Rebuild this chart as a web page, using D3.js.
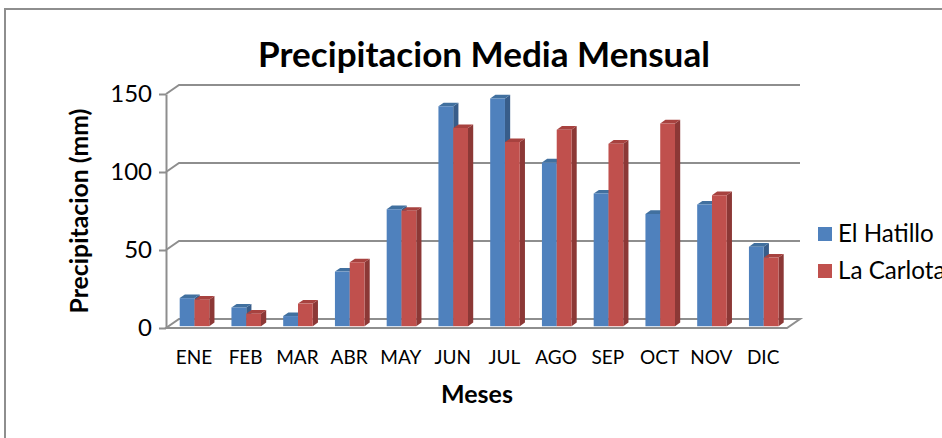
<!DOCTYPE html>
<meta charset="utf-8">
<style>
  body{ margin:0; background:#fff; }
  text{ font-family: Lato, "Open Sans", sans-serif; fill:#000; }
</style>

<svg width="942" height="438"></svg>

<script src="https://d3js.org/d3.v7.min.js"></script>
<script>
  // data
  const months = ['ENE','FEB','MAR','ABR','MAY','JUN','JUL','AGO','SEP','OCT','NOV','DIC']
  const series = ['El Hatillo','La Carlota']
  const hatillo = [18, 12, 6.5, 35, 75, 141, 146, 105, 85, 72, 78, 51]
  const carlota = [17, 8, 14.5, 41, 74, 127, 118, 126, 117, 130, 84, 44]
  const yTicks = [0, 50, 100, 150]

  const colors = {
    'El Hatillo': {front:'#4f81bd', side:'#385d8a', top:'#41709f'},
    'La Carlota': {front:'#c0504d', side:'#8c3836', top:'#a7423f'}
  }

  // front plane of the plot, plus the depth offset that fakes the 3d box
  const plot = {left:166, right:787, bottom:328, top:94}
  const depth = {dx:13, dy:-9}
  const barDepth = [0.2, 0.6]
  const gridColor = '#8e8e8e'

  const svg = d3.select('svg')

  // outer chart border (runs off the right and bottom edges)
  svg.append('path')
    .attr('d', 'M5,438 V9 H942')
    .attr('fill', 'none')
    .attr('stroke', gridColor)
    .attr('stroke-width', 2)

  const x = d3.scaleBand().domain(months)
    .range([plot.left, plot.right])
    .paddingInner(0.4286).paddingOuter(0.2143)
  const xs = d3.scaleBand().domain(series).range([0, x.bandwidth()])
  const y = d3.scaleLinear().domain([0, 150]).range([plot.bottom, plot.top])

  // project a front-plane point back by t (0 = front, 1 = back wall)
  const pt = (px, py, t) => [px + t*depth.dx, py + t*depth.dy]
  const poly = pts => 'M' + pts.map(p => p.join(',')).join('L') + 'Z'

  // back wall gridlines + side wall diagonals
  svg.append('g').selectAll('path')
    .data(yTicks.filter(d => d > 0))
    .join('path')
    .attr('d', d => {
      let a = pt(plot.left, y(d), 0), b = pt(plot.left, y(d), 1), c = pt(plot.right, y(d), 1)
      return 'M' + a + 'L' + b + 'L' + c
    })
    .attr('fill', 'none')
    .attr('stroke', gridColor)
    .attr('stroke-width', 2)

  // floor
  svg.append('path')
    .attr('d', poly([
      pt(plot.left, y(0), 0), pt(plot.right, y(0), 0),
      pt(plot.right, y(0), 1), pt(plot.left, y(0), 1)
    ]))
    .attr('fill', 'none')
    .attr('stroke', gridColor)
    .attr('stroke-width', 2)

  // y axis
  const yAxis = svg.append('g')
    .attr('transform', 'translate(' + plot.left + ',0)')
    .call(d3.axisLeft(y).tickValues(yTicks).tickSize(7).tickSizeOuter(0).tickPadding(7))
  yAxis.selectAll('path,line').attr('stroke', gridColor).attr('stroke-width', 2)
  yAxis.selectAll('text').attr('font-size', 24).attr('font-family', 'Lato').attr('fill', '#000')

  // x axis labels
  const xAxis = svg.append('g')
    .attr('transform', 'translate(2,350)')
    .call(d3.axisBottom(x).tickSize(0).tickPadding(0))
  xAxis.select('.domain').remove()
  xAxis.selectAll('text').attr('font-size', 19).attr('font-family', 'Lato').attr('fill', '#000')

  // bars: front, side and top faces
  const rows = months.map((m, i) => ({month: m, values: [hatillo[i], carlota[i]]}))
  const bars = []
  rows.forEach(r => series.forEach((s, j) => bars.push({month: r.month, series: s, value: r.values[j]})))

  const barG = svg.append('g').selectAll('g')
    .data(bars)
    .join('g')

  const faces = d => {
    let x0 = x(d.month) + xs(d.series), x1 = x0 + xs.bandwidth()
    let y0 = y(0), y1 = y(d.value)
    let [f, b] = barDepth
    return {
      front: poly([pt(x0, y1, f), pt(x1, y1, f), pt(x1, y0, f), pt(x0, y0, f)]),
      side: poly([pt(x1, y1, f), pt(x1, y1, b), pt(x1, y0, b), pt(x1, y0, f)]),
      top: poly([pt(x0, y1, f), pt(x1, y1, f), pt(x1, y1, b), pt(x0, y1, b)])
    }
  }
  barG.append('path').attr('d', d => faces(d).side).attr('fill', d => colors[d.series].side)
  barG.append('path').attr('d', d => faces(d).top).attr('fill', d => colors[d.series].top)
  barG.append('path').attr('d', d => faces(d).front).attr('fill', d => colors[d.series].front)

  // size a text so it spans a given width
  function fit(sel, w){
    let fs = parseFloat(sel.attr('font-size'))
    let cur = sel.node().getComputedTextLength()
    sel.attr('font-size', (fs*w/cur).toFixed(1))
    return sel
  }

  // titles
  fit(svg.append('text')
    .attr('x', 484).attr('y', 67)
    .attr('text-anchor', 'middle')
    .attr('font-weight', 'bold')
    .attr('font-size', 32)
    .text('Precipitacion Media Mensual'), 452)

  fit(svg.append('text')
    .attr('transform', 'translate(79,211) rotate(-90)')
    .attr('text-anchor', 'middle')
    .attr('dy', '0.35em')
    .attr('font-weight', 'bold')
    .attr('font-size', 22)
    .text('Precipitacion (mm)'), 205)

  fit(svg.append('text')
    .attr('x', 477).attr('y', 394)
    .attr('text-anchor', 'middle')
    .attr('dy', '0.35em')
    .attr('font-weight', 'bold')
    .attr('font-size', 22)
    .text('Meses'), 72)

  // legend
  const legend = svg.append('g').selectAll('g')
    .data(series)
    .join('g')
    .attr('transform', (d, i) => 'translate(818,' + (227 + i*37) + ')')
  legend.append('rect')
    .attr('width', 14).attr('height', 14)
    .attr('fill', d => colors[d].front)
  const legText = legend.append('text')
    .attr('x', 20).attr('y', 7).attr('dy', '0.35em')
    .attr('font-size', 22)
    .text(d => d)
  fit(d3.select(legText.nodes()[0]), 96)
  legText.attr('font-size', d3.select(legText.nodes()[0]).attr('font-size'))
</script>
